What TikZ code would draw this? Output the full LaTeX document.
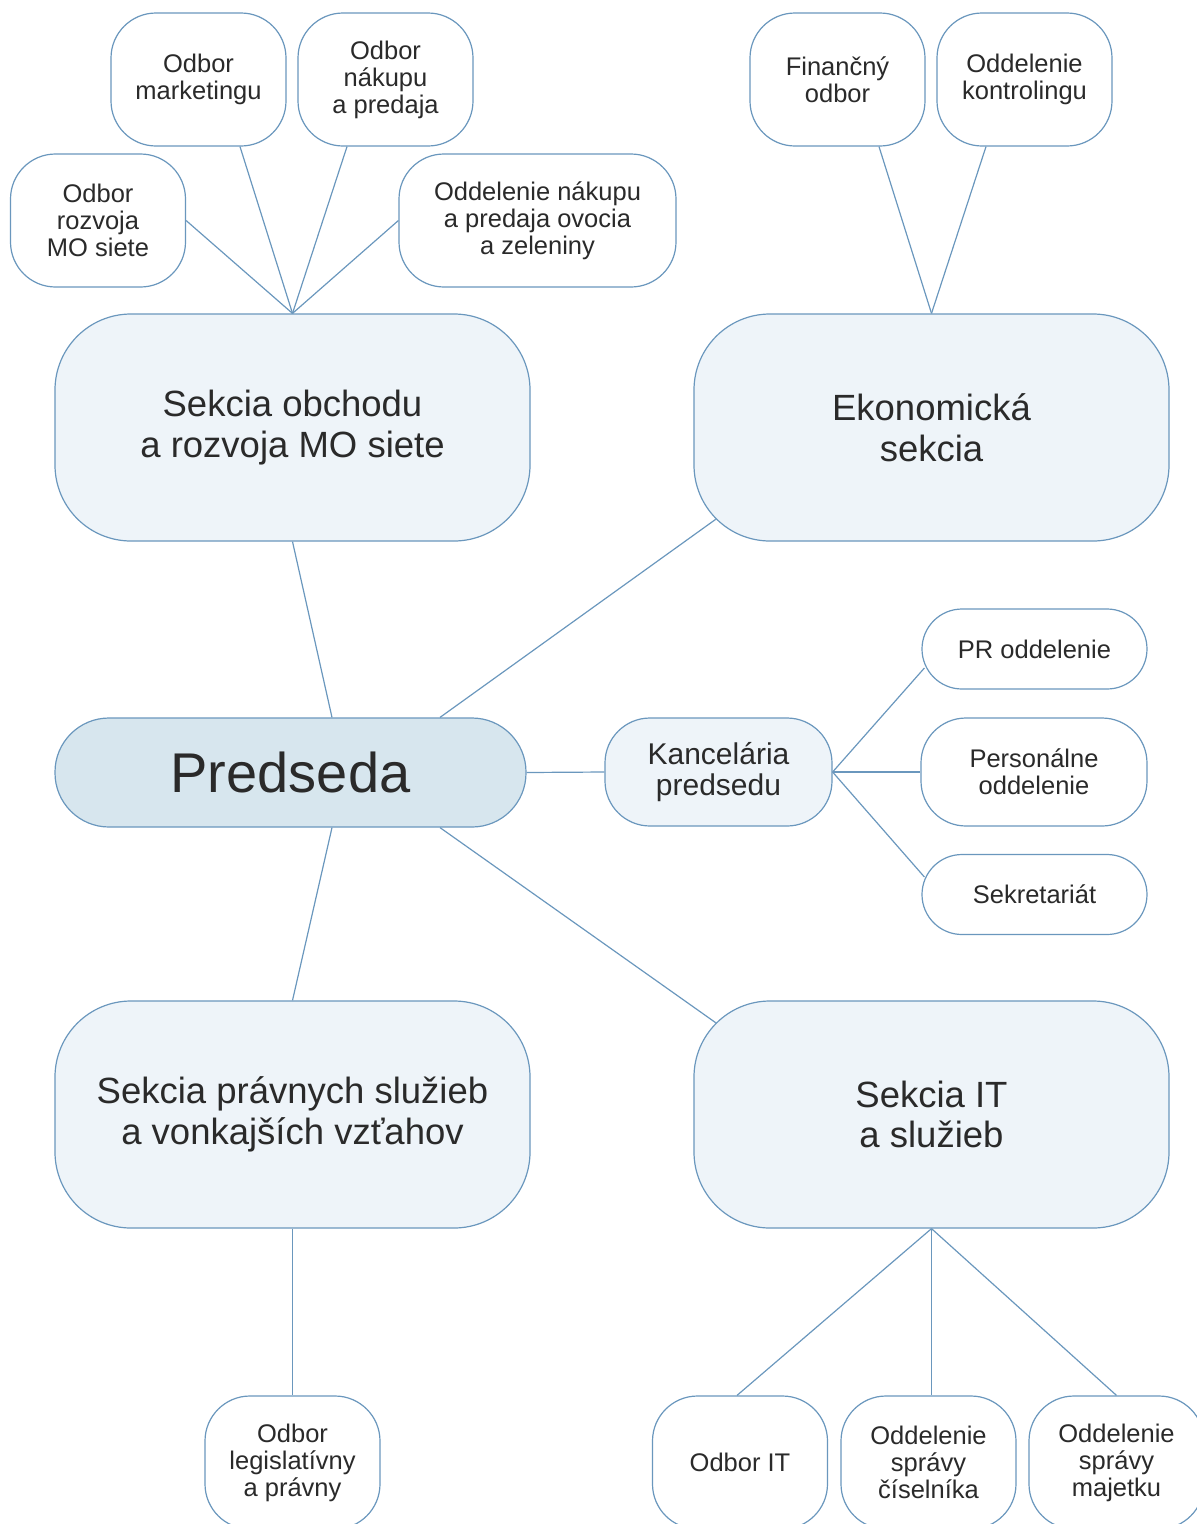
\documentclass[tikz,border=0pt]{standalone}
\usepackage{fontspec}
\setmainfont{Liberation Sans}
\usetikzlibrary{calc}

\definecolor{edgeblue}{HTML}{6A97BD}
\definecolor{paleblue}{HTML}{EEF4F9}
\definecolor{chairblue}{HTML}{D7E6EE}
\definecolor{inkgray}{HTML}{2A2A2A}

\tikzstyle{unit} = [rectangle, rounded corners=45pt, minimum width=175pt, minimum height=133pt, inner sep=0pt, align=center, draw=edgeblue, line width=1.2pt, fill=white, text=inkgray, font=\fontsize{25.5}{27}\selectfont]
\tikzstyle{pill} = [unit, rounded corners=40pt, minimum width=225pt, minimum height=80pt]
\tikzstyle{section} = [unit, rounded corners=76pt, minimum width=475pt, minimum height=227pt, fill=paleblue, font=\fontsize{36.5}{40.5}\selectfont]
\tikzstyle{link} = [draw=edgeblue, line width=1.2pt]

\begin{document}
\begin{tikzpicture}[x=1pt, y=-1pt]
	\useasboundingbox (0,0) rectangle (1197,1524);
	% Place nodes
	\node [unit] (marketing) at (198.5,79.5) {Odbor\\marketingu};
	\node [unit] (nakup) at (385.5,79.5) {Odbor\\nákupu\\a predaja};
	\node [unit] (rozvoj) at (98,220.5) {Odbor\\rozvoja\\MO siete};
	\node [unit, minimum width=277pt] (ovocie) at (537.5,220.5) {Oddelenie nákupu\\a predaja ovocia\\a zeleniny};
	\node [section] (obchod) at (292.5,427.5) {Sekcia obchodu\\a rozvoja MO siete};
	\node [unit] (financny) at (837.5,79.5) {Finančný\\odbor};
	\node [unit] (kontroling) at (1024.5,79.5) {Oddelenie\\kontrolingu};
	\node [section] (ekon) at (931.5,427.5) {Ekonomická\\sekcia};
	\node [section, rounded corners=54pt, minimum width=471pt, minimum height=109pt, fill=chairblue, font=\fontsize{56}{60}\selectfont] (predseda) at (290.5,772.5) {Predseda};
	\node [unit, minimum width=227pt, minimum height=108pt, fill=paleblue, font=\fontsize{30}{31}\selectfont] (kancelaria) at (718.5,772) {Kancelária\\predsedu};
	\node [pill] (pr) at (1034.5,649) {PR oddelenie};
	\node [pill, rounded corners=45pt, minimum width=226pt, minimum height=108pt] (personal) at (1034,772) {Personálne\\oddelenie};
	\node [pill] (sekretariat) at (1034.5,894.5) {Sekretariát};
	\node [section] (pravo) at (292.5,1114.5) {Sekcia právnych služieb\\a vonkajších vzťahov};
	\node [section] (it) at (931.5,1114.5) {Sekcia IT\\a služieb};
	\node [unit] (legislativa) at (292.5,1462.5) {Odbor\\legislatívny\\a právny};
	\node [unit] (odborit) at (740,1462.5) {Odbor IT};
	\node [unit] (ciselnik) at (928.5,1462.5) {Oddelenie\\správy\\číselníka};
	\node [unit] (majetok) at (1116.5,1462.5) {Oddelenie\\správy\\majetku};
	% Draw edges
	\draw [link] (rozvoj.east) -- (obchod.north);
	\draw [link] ($(marketing.south)+(41.5,0)$) -- (obchod.north);
	\draw [link] ($(nakup.south)+(-38.5,0)$) -- (obchod.north);
	\draw [link] (ovocie.west) -- (obchod.north);
	\draw [link] ($(financny.south)+(41.5,0)$) -- (ekon.north);
	\draw [link] ($(kontroling.south)+(-38.5,0)$) -- (ekon.north);
	\draw [link] (obchod.south) -- ($(predseda.north)+(41.5,0)$);
	\draw [link] ($(ekon.south west)+(22.3,-22.3)$) -- ($(predseda.north)+(149.5,0)$);
	\draw [link] (predseda.east) -- (kancelaria.west);
	\draw [link] (kancelaria.east) -- ($(pr.west)+(3,19)$);
	\draw [link] (kancelaria.east) -- (personal.west);
	\draw [link] (kancelaria.east) -- ($(sekretariat.west)+(3,-17.5)$);
	\draw [link] ($(predseda.south)+(41.5,0)$) -- (pravo.north);
	\draw [link] ($(predseda.south)+(149.5,0)$) -- ($(it.north west)+(22.3,22.3)$);
	\draw [link] (pravo.south) -- (legislativa.north);
	\draw [link] (it.south) -- ($(odborit.north)+(-3,0)$);
	\draw [link] (it.south) -- (ciselnik.north -| it.south);
	\draw [link] (it.south) -- (majetok.north);
\end{tikzpicture}
\end{document}
